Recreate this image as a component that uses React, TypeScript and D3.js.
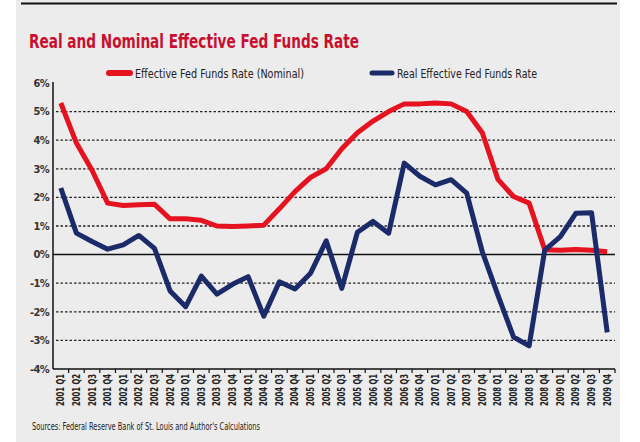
import * as d3 from "d3";
import { FC } from "react";

// quarterly labels 2001 Q1 .. 2009 Q4
const years = [2001, 2002, 2003, 2004, 2005, 2006, 2007, 2008, 2009];
const quarterNames = ["Q1", "Q2", "Q3", "Q4"];
const quarters = years.flatMap((y) => quarterNames.map((q) => `${y} ${q}`));

// effective fed funds rate (nominal), %
const nominal = [
  5.3, 3.9, 2.95, 1.8, 1.72, 1.74, 1.76, 1.25, 1.25, 1.2, 1.0, 0.98, 1.0, 1.03,
  1.6, 2.2, 2.7, 3.0, 3.7, 4.26, 4.67, 5.0, 5.27, 5.27, 5.3, 5.27, 5.0, 4.26,
  2.63, 2.03, 1.8, 0.17, 0.15, 0.18, 0.15, 0.1,
];

// real effective fed funds rate, %
const real = [
  2.33, 0.75, 0.46, 0.19, 0.34, 0.67, 0.22, -1.27, -1.82, -0.75, -1.38, -1.04,
  -0.77, -2.15, -0.95, -1.2, -0.65, 0.48, -1.18, 0.78, 1.16, 0.75, 3.2, 2.74,
  2.44, 2.62, 2.15, 0.1, -1.42, -2.88, -3.19, 0.16, 0.63, 1.45, 1.46, -2.72,
];

const yTicks = [6, 5, 4, 3, 2, 1, 0, -1, -2, -3, -4];

const W = 640;
const H = 442;
const RED = "#e5121f";
const BLUE = "#1b2a68";
const FONT = "'DejaVu Sans Condensed', 'DejaVu Sans', sans-serif";

const App: FC = () => {
  const x = d3.scaleBand<string>().domain(quarters).range([53, 615]).padding(0);
  const y = d3.scaleLinear().domain([-4, 6]).range([369, 83]);
  const cx = (i: number) => (x(quarters[i]) ?? 0) + x.bandwidth() / 2;

  const line = d3
    .line<number>()
    .x((_, i) => cx(i))
    .y((d) => y(d));

  const left = x.range()[0];
  const right = x.range()[1];

  return (
    <svg
      width={W}
      height={H}
      style={{ position: "absolute", left: 0, top: 0 }}
      fontFamily={FONT}
    >
      <rect x={0} y={0} width={W} height={H} fill="#fff" />
      <rect x={16} y={0} width={604} height={H} fill="#ececec" />
      <line x1={21} x2={617} y1={3.5} y2={3.5} stroke="#111" strokeWidth={2} />

      {/* title */}
      <text
        x={29}
        y={48}
        fill="#c8102e"
        fontSize={20}
        fontWeight="bold"
        textLength={330}
        lengthAdjust="spacingAndGlyphs"
      >
        Real and Nominal Effective Fed Funds Rate
      </text>

      {/* legend */}
      <line x1={109} x2={130} y1={73} y2={73} stroke={RED} strokeWidth={6} strokeLinecap="round" />
      <text x={135} y={78} fontSize={13} fill="#222" textLength={169} lengthAdjust="spacingAndGlyphs">
        Effective Fed Funds Rate (Nominal)
      </text>
      <line x1={372} x2={392} y1={73} y2={73} stroke={BLUE} strokeWidth={5} strokeLinecap="round" />
      <text x={397} y={78} fontSize={13} fill="#222" textLength={140} lengthAdjust="spacingAndGlyphs">
        Real Effective Fed Funds Rate
      </text>

      {/* grid */}
      {yTicks
        .filter((t) => t !== 0 && t !== 6 && t !== -4)
        .map((t) => (
          <line
            key={t}
            x1={left + 3}
            x2={right}
            y1={y(t)}
            y2={y(t)}
            stroke="#222"
            strokeWidth={1.3}
            strokeDasharray="2.5,2"
          />
        ))}
      <line x1={left} x2={right} y1={y(0)} y2={y(0)} stroke="#111" strokeWidth={1.5} />

      {/* y axis */}
      <line x1={left} x2={left} y1={y(6) - 1} y2={y(-4)} stroke="#111" strokeWidth={1.5} />
      {yTicks.map((t) => (
        <text
          key={t}
          x={49}
          y={y(t)}
          dy="0.35em"
          textAnchor="end"
          fontSize={11}
          fontWeight="bold"
          fill="#333"
          letterSpacing={-0.6}
        >
          {`${t}%`}
        </text>
      ))}

      {/* x axis */}
      <line x1={left} x2={right} y1={y(-4)} y2={y(-4)} stroke="#111" strokeWidth={1.5} />
      {quarters.map((q) => (
        <line
          key={q}
          x1={(x(q) ?? 0) + x.bandwidth()}
          x2={(x(q) ?? 0) + x.bandwidth()}
          y1={y(-4)}
          y2={y(-4) + 4}
          stroke="#111"
          strokeWidth={1.2}
        />
      ))}
      {quarters.map((q, i) => (
        <text
          key={q}
          transform={`translate(${cx(i)},${y(-4) + 5}) rotate(-90)`}
          dy="0.35em"
          textAnchor="end"
          fontSize={10}
          fontWeight="bold"
          fill="#222"
          textLength={32}
          lengthAdjust="spacingAndGlyphs"
        >
          {q}
        </text>
      ))}

      {/* series */}
      <path d={line(nominal) ?? ""} fill="none" stroke={RED} strokeWidth={5} strokeLinejoin="round" />
      <path d={line(real) ?? ""} fill="none" stroke={BLUE} strokeWidth={5} strokeLinejoin="round" />

      {/* source */}
      <text x={32} y={430} fontSize={10.5} fill="#222" textLength={228} lengthAdjust="spacingAndGlyphs">
        Sources: Federal Reserve Bank of St. Louis and Author's Calculations
      </text>
    </svg>
  );
};

export default App;
